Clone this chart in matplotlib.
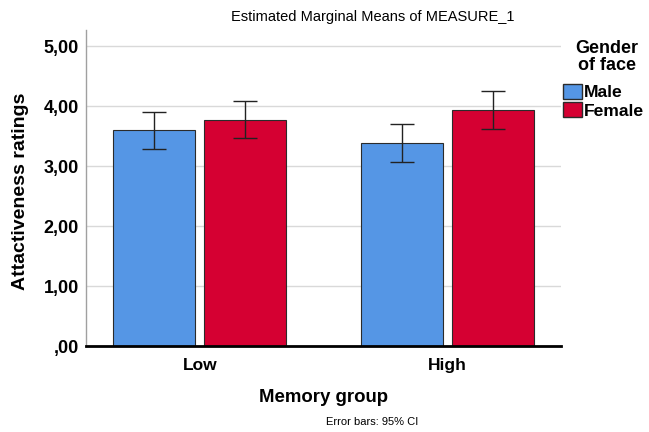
import matplotlib
matplotlib.use("Agg")
import matplotlib.pyplot as plt
from matplotlib.patches import Patch
import numpy as np

plt.rcParams["font.family"] = ["Liberation Sans", "DejaVu Sans"]

groups = ["Low", "High"]
male_means = [3.60, 3.39]
male_lo = [3.29, 3.08]
male_hi = [3.91, 3.71]
female_means = [3.78, 3.94]
female_lo = [3.47, 3.62]
female_hi = [4.09, 4.25]
yticks = [0, 1, 2, 3, 4, 5]
ytick_labels = [",00", "1,00", "2,00", "3,00", "4,00", "5,00"]

blue = "#5596e5"
red = "#d50032"

fig = plt.figure(figsize=(6.49, 4.32), dpi=100)
ax = fig.add_axes([0.1325, 0.198, 0.732, 0.7326])

x = np.arange(len(groups))
w = 0.332
off = 0.184

ax.set_axisbelow(True)
ax.grid(axis="y", color="#d9d9d9", linewidth=1)

male_err = [np.array(male_means) - np.array(male_lo), np.array(male_hi) - np.array(male_means)]
female_err = [np.array(female_means) - np.array(female_lo), np.array(female_hi) - np.array(female_means)]

ax.bar(x - off, male_means, w, color=blue, edgecolor="#2b2b2b", linewidth=0.8)
ax.bar(x + off, female_means, w, color=red, edgecolor="#2b2b2b", linewidth=0.8)
ax.errorbar(x - off, male_means, yerr=male_err, fmt="none", ecolor="#222222", elinewidth=1, capsize=8.5, capthick=1)
ax.errorbar(x + off, female_means, yerr=female_err, fmt="none", ecolor="#222222", elinewidth=1, capsize=8.5, capthick=1)

ax.set_xlim(-0.46, 1.46)
ax.set_ylim(0, 5.275)
ax.set_yticks(yticks)
ax.set_yticklabels(ytick_labels, fontsize=13, fontweight="bold")
ax.set_xticks(x)
ax.set_xticklabels(groups, fontsize=12.5, fontweight="bold")
ax.tick_params(axis="y", length=0, pad=5)
ax.tick_params(axis="x", length=0, pad=8)

for s in ["top", "right"]:
    ax.spines[s].set_visible(False)
ax.spines["left"].set_color("#a0a0a0")
ax.spines["left"].set_linewidth(1)
ax.spines["bottom"].set_color("black")
ax.spines["bottom"].set_linewidth(2)

ax.set_ylabel("Attactiveness ratings", fontsize=14, fontweight="bold")
ax.yaxis.set_label_coords(-0.12, 0.49)
ax.set_xlabel("Memory group", fontsize=13.4, fontweight="bold", labelpad=12)

fig.text(0.575, 0.9606, "Estimated Marginal Means of MEASURE_1", ha="center", va="center", fontsize=10.5)
fig.text(0.573, 0.023, "Error bars: 95% CI", ha="center", va="center", fontsize=8)

fig.text(607 / 649, 1 - 57 / 432, "Gender\nof face", ha="center", va="center", fontsize=13,
         fontweight="bold", linespacing=1.0)

handles = [Patch(facecolor=blue, edgecolor="#2b2b2b"), Patch(facecolor=red, edgecolor="#2b2b2b")]
leg = fig.legend(handles, ["Male", "Female"], loc="upper left",
                 bbox_to_anchor=(563 / 649, 1 - 84 / 432), frameon=False,
                 prop={"size": 12.6, "weight": "bold"}, handlelength=1.09, handleheight=0.91,
                 handletextpad=0.12, labelspacing=0.12, borderaxespad=0, borderpad=0)

fig.savefig("out.png", dpi=100)
